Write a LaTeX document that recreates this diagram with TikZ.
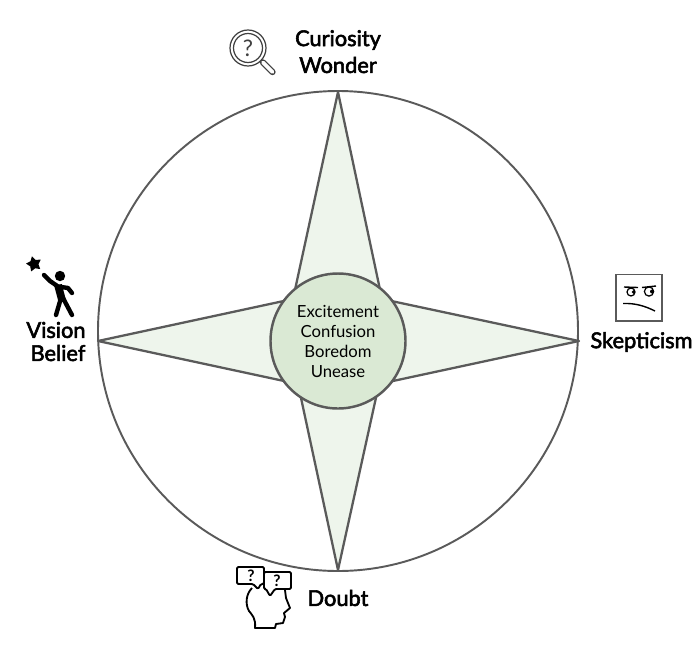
\documentclass[tikz,border=0pt]{standalone}
\usepackage{fontspec}
\setmainfont{Lato}
\newfontfamily\polefont[FakeBold=2.6]{Lato}
\usetikzlibrary{positioning,shapes.geometric}
\definecolor{ink}{HTML}{5A5A5A}
\definecolor{petal}{HTML}{EEF5EC}
\definecolor{core}{HTML}{DAE9D4}
\tikzset{
  pole/.style={font=\polefont\fontsize{12.4pt}{14pt}\selectfont,inner sep=0pt},
  mood/.style={font=\fontsize{9.5pt}{11pt}\selectfont,inner sep=0pt,black},
  limb/.style={black,line width=2.5pt,line cap=round,line join=round},
  glyph/.style={black,line width=1.05pt,line join=round,rounded corners=0.7pt}
}
\begin{document}
\begin{tikzpicture}[x=0.02cm,y=-0.02cm]
  \useasboundingbox (0,0) rectangle (700,650);
  % outer circle and star
  \draw[ink,line width=1.1pt] (338,331) circle (240);
  \draw[ink,line width=1.3pt,fill=petal,line join=round] (338,92) -- (382,299) -- (579,341) -- (379,384)
    -- (338,570) -- (298,384) -- (98,341) -- (293,299) -- cycle;
  \node[circle,draw=ink,line width=1.4pt,fill=core,minimum size=135*0.02cm,inner sep=0pt] (centre) at (338,341) {};
  % centre text
  \foreach \mname/\mrow in {Excitement/311,Confusion/331.5,Boredom/351.5,Unease/372} {
    \node[mood] (m\mname) at (338,\mrow) {\mname};
  }
  % pole labels
  \foreach \pname/\px/\py in {Curiosity/338/40,Wonder/338/65,Vision/56/330,Belief/58/353,Skepticism/641.5/342,Doubt/338/598} {
    \node[pole] (p\pname) at (\px,\py) {\pname};
  }
  % magnifier
  \draw[black!75,line width=0.7pt] (248,48) circle (18) (248,48) circle (14.5);
  \draw[black!75,line width=3.6pt,line cap=round] (263,62.5) -- (272.5,72);
  \draw[white,line width=2.2pt,line cap=round] (263,62.5) -- (272.5,72);
  \node[black!75,inner sep=0pt,font=\fontsize{13pt}{13pt}\selectfont] (lens) at (248,48) {?};
  % figure with star
  \node[star,star points=5,star point ratio=1.8,fill=black,inner sep=0pt,minimum size=16*0.02cm,rotate=15] (goal) at (34,264) {};
  \fill[black] (60,276) circle (5.2);
  \draw[limb] (44,275) -- (50,281) -- (58,286.5) -- (68,288) -- (72,293);
  \draw[limb,line width=4.4pt,line cap=butt] (58,285) -- (62,300);
  \draw[limb] (61,298) -- (56,315) (63,298) -- (72,315);
  % square face
  \draw[ink,line width=1pt] (616,274.5) rectangle (662,321);
  \draw[black,line width=0.7pt] (631,292) circle (4) (649,291.5) circle (4.6);
  \fill[black] (633.5,292) circle (1.9) (652,291.5) circle (2);
  \draw[black,line width=0.8pt] (624,287) -- (638,287.5) (642,287.5) -- (656,286);
  \draw[black,line width=0.8pt] (623,303.5) .. controls (635,303) and (645,306) .. (655,311);
  % head with two bubbles
  \draw[glyph,fill=white] (237,567) -- (264,567) -- (264,584) -- (261,584) -- (258,589) -- (253,584) -- (237,584) -- cycle;
  \draw[glyph,fill=white] (264,572) -- (291,572) -- (291,589) -- (275,589) -- (270,596) -- (266,589) -- (264,589) -- cycle;
  \node[inner sep=0pt,font=\fontsize{9pt}{9pt}\selectfont\bfseries] (qleft) at (251,576) {?};
  \node[inner sep=0pt,font=\fontsize{9pt}{9pt}\selectfont\bfseries] (qright) at (277,581) {?};
  \draw[glyph,rounded corners=0pt] (252,588) .. controls (246,594) and (245,604) .. (249,611)
    .. controls (252,615) and (256,618) .. (255,628) -- (275,628) -- (276,624) -- (283,623)
    -- (285,617) -- (284,613) -- (290,608) -- (286,598) -- (285,590);
\end{tikzpicture}
\end{document}
